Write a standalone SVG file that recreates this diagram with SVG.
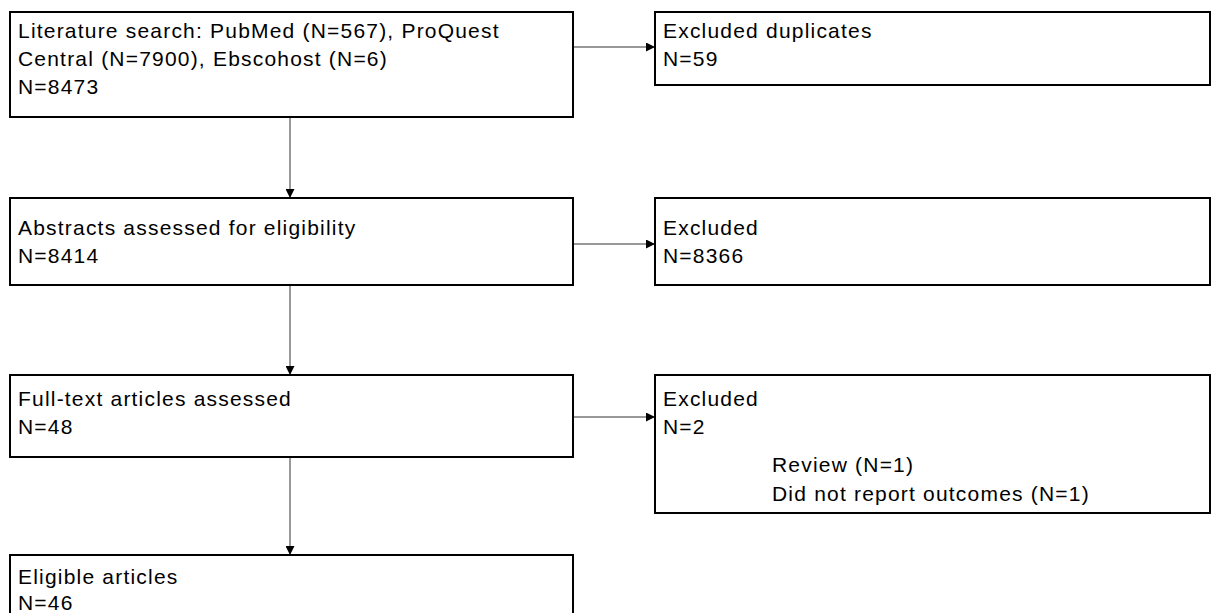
<svg xmlns="http://www.w3.org/2000/svg" width="1212" height="613" viewBox="0 0 1212 613">
<defs>
<style>
.box{fill:#fff;stroke:#000;stroke-width:2}
.t{font-family:"Liberation Sans",Arial,sans-serif;font-size:21px;letter-spacing:1.2px;fill:#000}
.c{stroke:#333;stroke-width:1;fill:none}
</style>
<marker id="ah" viewBox="0 0 10 10" refX="10" refY="5" markerWidth="9" markerHeight="9" markerUnits="userSpaceOnUse" orient="auto"><path d="M0,0 L10,5 L0,10 z" fill="#000"/></marker>
</defs>
<rect width="1212" height="613" fill="#fff"/>
<g id="connectors">
<line class="c" x1="573" y1="47" x2="655" y2="47" marker-end="url(#ah)"/>
<line class="c" x1="290" y1="117" x2="290" y2="198" marker-end="url(#ah)"/>
<line class="c" x1="573" y1="244" x2="655" y2="244" marker-end="url(#ah)"/>
<line class="c" x1="290" y1="285" x2="290" y2="375" marker-end="url(#ah)"/>
<line class="c" x1="573" y1="417" x2="655" y2="417" marker-end="url(#ah)"/>
<line class="c" x1="290" y1="457" x2="290" y2="555" marker-end="url(#ah)"/>
</g>
<g id="n1"><rect class="box" x="10" y="12" width="563" height="105"/>
<text class="t" x="18" y="38">Literature search: PubMed (N=567), ProQuest</text>
<text class="t" x="18" y="66">Central (N=7900), Ebscohost (N=6)</text>
<text class="t" x="18" y="94">N=8473</text></g>
<g id="n2"><rect class="box" x="655" y="12" width="555" height="73"/>
<text class="t" x="663" y="38">Excluded duplicates</text>
<text class="t" x="663" y="66">N=59</text></g>
<g id="n3"><rect class="box" x="10" y="198" width="563" height="87"/>
<text class="t" x="18" y="235">Abstracts assessed for eligibility</text>
<text class="t" x="18" y="263">N=8414</text></g>
<g id="n4"><rect class="box" x="655" y="198" width="555" height="87"/>
<text class="t" x="663" y="235">Excluded</text>
<text class="t" x="663" y="263">N=8366</text></g>
<g id="n5"><rect class="box" x="10" y="375" width="563" height="82"/>
<text class="t" x="18" y="406">Full-text articles assessed</text>
<text class="t" x="18" y="434">N=48</text></g>
<g id="n6"><rect class="box" x="655" y="375" width="555" height="138"/>
<text class="t" x="663" y="406">Excluded</text>
<text class="t" x="663" y="434">N=2</text>
<text class="t" x="772" y="472">Review (N=1)</text>
<text class="t" x="772" y="501">Did not report outcomes (N=1)</text></g>
<g id="n7"><rect class="box" x="10" y="555" width="563" height="70"/>
<text class="t" x="18" y="584">Eligible articles</text>
<text class="t" x="18" y="610">N=46</text></g>
</svg>
